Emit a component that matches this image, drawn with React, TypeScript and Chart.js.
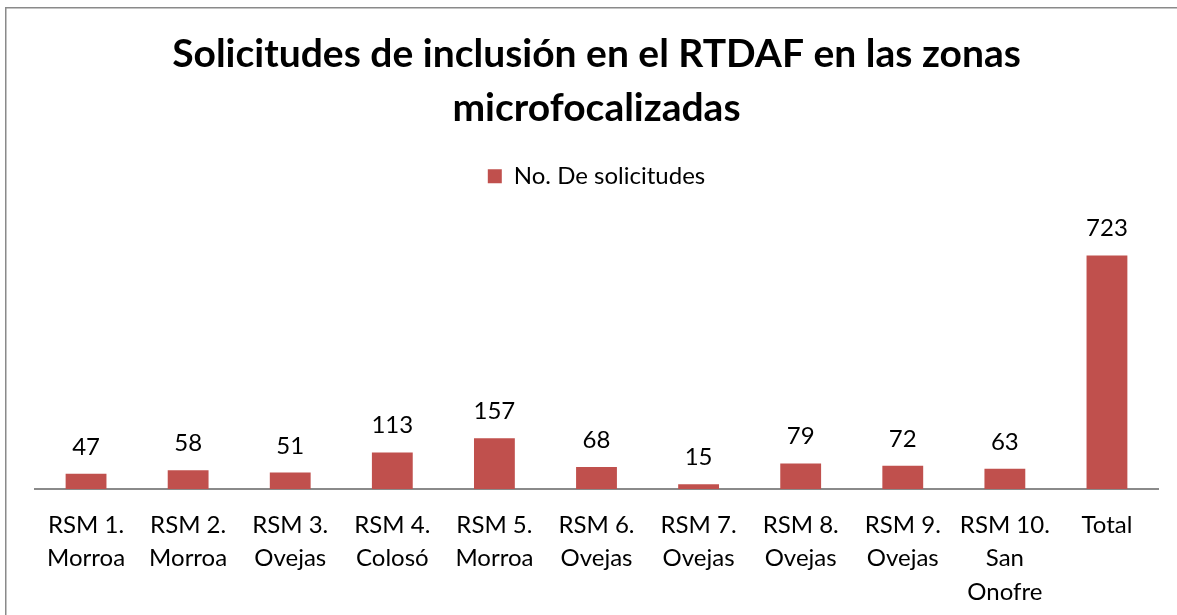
import React, { useEffect, useRef } from "react";
import { Chart, registerables } from "chart.js";

Chart.register(...registerables);

const categories: string[][] = [
  ["RSM 1.", "Morroa"],
  ["RSM 2.", "Morroa"],
  ["RSM 3.", "Ovejas"],
  ["RSM 4.", "Colosó"],
  ["RSM 5.", "Morroa"],
  ["RSM 6.", "Ovejas"],
  ["RSM 7.", "Ovejas"],
  ["RSM 8.", "Ovejas"],
  ["RSM 9.", "Ovejas"],
  ["RSM 10.", "San", "Onofre"],
  ["Total"],
];
const solicitudes: number[] = [47, 58, 51, 113, 157, 68, 15, 79, 72, 63, 723];
const seriesName = "No. De solicitudes";
const titleLines = ["Solicitudes de inclusión en el RTDAF en las zonas", "microfocalizadas"];

const FONT = "Lato, 'Open Sans', sans-serif";

const borderPlugin = {
  id: "frameBorder",
  beforeDraw(chart: any) {
    const ctx = chart.ctx;
    ctx.save();
    ctx.strokeStyle = "#8a8a8a";
    ctx.lineWidth = 1.5;
    ctx.beginPath();
    ctx.moveTo(5.75, chart.height + 5);
    ctx.lineTo(5.75, 7.75);
    ctx.lineTo(chart.width + 5, 7.75);
    ctx.stroke();
    ctx.restore();
  },
};

const valueLabels = {
  id: "valueLabels",
  afterDatasetsDraw(chart: any) {
    const ctx = chart.ctx;
    ctx.save();
    ctx.font = `24px ${FONT}`;
    ctx.fillStyle = "#000";
    ctx.textAlign = "center";
    ctx.textBaseline = "alphabetic";
    const meta = chart.getDatasetMeta(0);
    meta.data.forEach((bar: any, i: number) => {
      ctx.fillText(String(solicitudes[i]), bar.x, bar.y - 19);
    });
    ctx.restore();
  },
};

export default function App() {
  const ref = useRef<HTMLCanvasElement | null>(null);
  useEffect(() => {
    if (!ref.current) return;
    const chart = new Chart(ref.current, {
      type: "bar",
      data: {
        labels: categories,
        datasets: [
          {
            label: seriesName,
            data: solicitudes,
            backgroundColor: "#C0504D",
            barPercentage: 0.4,
            categoryPercentage: 1,
          },
        ],
      },
      options: {
        animation: false,
        responsive: false,
        layout: { padding: { left: 35, right: 19, top: 0, bottom: 10 } },
        plugins: {
          title: {
            display: true,
            text: titleLines,
            color: "#000",
            font: { family: FONT, size: 39, weight: "bold", lineHeight: 1.4 },
            padding: { top: 27, bottom: 18 },
          },
          legend: {
            display: true,
            position: "top",
            labels: {
              color: "#000",
              font: { family: FONT, size: 24 },
              boxWidth: 14,
              boxHeight: 14,
              padding: 10,
            },
          },
          tooltip: { enabled: false },
        },
        scales: {
          x: {
            grid: { display: false, drawTicks: false },
            border: { display: true, color: "#8a8a8a", width: 2 },
            ticks: {
              color: "#000",
              font: { family: FONT, size: 24, lineHeight: 1.38 },
              padding: 20,
              maxRotation: 0,
              autoSkip: false,
            },
            afterFit: (s: any) => {
              s.height = 116;
            },
          },
          y: {
            display: false,
            min: 0,
            max: 900,
          },
        },
      },
      plugins: [borderPlugin, valueLabels],
    });
    return () => chart.destroy();
  }, []);
  return (
    <div style={{ position: "absolute", left: 0, top: 0, width: 1177, height: 615, background: "#fff" }}>
      <canvas ref={ref} width={1177} height={615} style={{ display: "block" }} />
    </div>
  );
}
